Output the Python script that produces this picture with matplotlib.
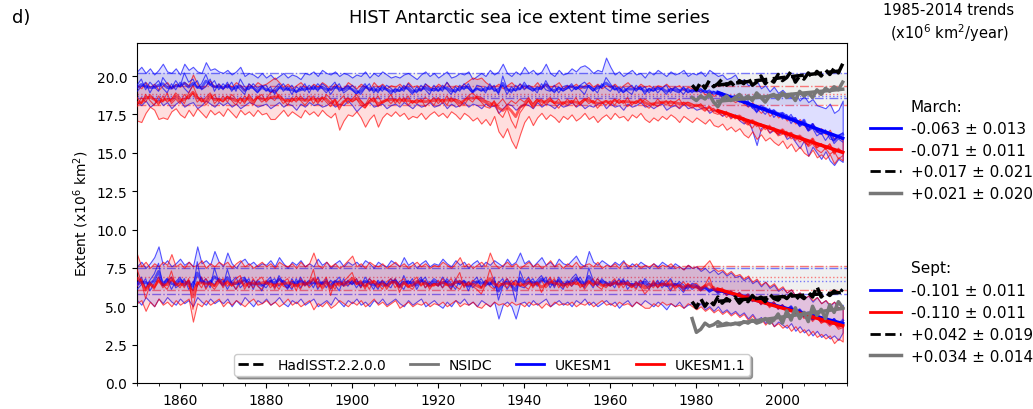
import numpy as np
import matplotlib
matplotlib.use("Agg")
import matplotlib.pyplot as plt
from matplotlib.lines import Line2D

years = list(range(1850, 2015))
obs_years = list(range(1979, 2015))
trend_start, trend_end = 1985, 2014

# ---------------- March, UKESM1 (blue) ----------------
mar_ukesm1_hi = [
    20.3, 20.6, 20.2, 20.5, 20.1, 20.4, 20.8, 20.3, 20.2, 20.5,
    20.1, 20.8, 20.4, 20.6, 20.3, 20.2, 20.9, 20.4, 20.5, 20.3,
    20.2, 20.4, 20.1, 20.3, 20.6, 20.0, 20.2, 20.1, 19.9, 20.2,
    19.9, 20.1, 19.8, 20.0, 20.2, 19.9, 20.1, 20.0, 19.8, 20.2,
    20.1, 20.3, 20.0, 20.4, 20.2, 20.1, 20.3, 20.0, 20.2, 20.1,
    19.9, 20.1, 20.0, 20.3, 19.9, 20.2, 20.0, 20.3, 20.1, 19.9,
    20.0, 19.9, 20.1, 20.2, 20.0, 19.8, 20.1, 20.3, 20.0, 20.2,
    19.9, 20.1, 20.3, 19.9, 20.0, 20.2, 20.1, 20.3, 19.8, 20.0,
    20.2, 20.0, 20.4, 20.1, 20.3, 20.8, 20.2, 20.0, 20.3, 20.1,
    20.6, 20.2, 20.4, 20.1, 20.3, 20.8, 20.2, 20.0, 20.4, 20.1,
    20.2, 20.5, 20.3, 20.6, 20.7, 20.5, 20.2, 20.4, 20.3, 21.2,
    20.6, 20.1, 20.3, 20.0, 20.2, 20.4, 20.1, 20.2, 19.9, 20.3,
    20.1, 20.4, 20.2, 20.0, 20.3, 20.1, 20.2, 20.4, 20.0, 20.2,
    20.1, 20.3, 20.0, 20.4, 20.2, 20.0, 20.1, 19.8, 19.9, 20.1,
    19.6, 19.8, 19.4, 19.5, 19.7, 19.2, 19.4, 19.0, 19.3, 18.9,
    19.1, 18.8, 18.6, 18.9, 18.4, 18.7, 18.3, 18.5, 18.1, 18.0,
    17.9, 18.2, 17.6, 17.8, 18.4]
mar_ukesm1_lo = [
    18.3, 18.1, 18.4, 18.0, 18.2, 18.5, 18.1, 18.3, 17.9, 18.2,
    18.4, 18.0, 18.2, 18.3, 17.9, 18.1, 18.4, 18.2, 18.0, 18.3,
    18.1, 18.3, 18.0, 18.2, 17.9, 18.1, 18.3, 18.2, 18.0, 18.1,
    18.2, 17.9, 18.1, 18.3, 18.0, 18.2, 18.1, 17.8, 18.2, 18.0,
    18.3, 18.1, 18.2, 18.0, 18.1, 18.3, 18.0, 18.2, 18.1, 18.4,
    18.1, 17.7, 18.0, 18.2, 18.3, 18.0, 18.1, 18.2, 17.9, 18.1,
    18.2, 18.0, 18.3, 18.1, 17.9, 18.2, 18.0, 18.1, 18.3, 18.0,
    18.1, 18.3, 17.9, 18.2, 18.0, 18.1, 18.3, 18.0, 18.2, 18.1,
    17.9, 18.2, 18.0, 18.1, 17.6, 17.9, 18.2, 18.1, 17.8, 18.0,
    18.2, 18.1, 17.9, 18.3, 18.0, 18.2, 18.1, 17.9, 18.2, 18.0,
    18.1, 18.3, 18.0, 18.2, 17.9, 18.1, 18.0, 18.2, 18.3, 17.9,
    18.2, 18.0, 18.1, 17.8, 18.2, 18.0, 18.1, 18.3, 18.0, 18.1,
    17.9, 18.1, 18.2, 17.8, 18.0, 18.1, 17.9, 18.2, 17.9, 18.0,
    17.8, 17.9, 18.0, 17.6, 17.8, 17.7, 17.4, 17.6, 17.3, 17.5,
    17.1, 16.9, 17.2, 16.4, 15.5, 16.6, 16.8, 16.3, 16.5, 16.2,
    16.4, 15.9, 16.1, 15.7, 15.3, 15.8, 14.8, 15.4, 15.0, 14.6,
    15.1, 14.5, 14.2, 14.6, 14.4]
mar_ukesm1_m1 = [
    19.4, 19.8, 19.1, 19.6, 19.3, 19.0, 19.9, 19.5, 19.2, 19.7,
    19.3, 20.2, 19.6, 19.8, 19.2, 19.5, 20.1, 19.4, 19.7, 19.1,
    19.5, 19.2, 19.6, 19.0, 19.8, 19.3, 19.1, 19.5, 19.2, 19.4,
    19.0, 19.3, 18.8, 19.2, 19.5, 19.1, 19.4, 18.9, 19.3, 19.0,
    19.4, 19.1, 19.5, 19.2, 18.9, 19.3, 19.6, 19.0, 19.2, 19.4,
    19.1, 18.8, 19.2, 19.5, 19.0, 19.3, 18.9, 19.4, 19.1, 18.8,
    19.2, 19.0, 19.4, 19.1, 18.8, 19.3, 19.0, 19.5, 19.2, 19.0,
    19.3, 19.0, 19.6, 19.2, 18.9, 19.4, 19.1, 19.5, 19.0, 19.2,
    19.0, 19.3, 19.1, 19.4, 18.8, 20.0, 19.2, 18.9, 19.4, 19.1,
    19.6, 19.2, 19.0, 19.3, 19.1, 19.7, 19.2, 18.9, 19.3, 19.0,
    19.2, 19.5, 19.1, 19.4, 19.6, 19.3, 19.0, 19.4, 19.2, 19.9,
    19.5, 19.1, 19.3, 18.9, 19.2, 19.4, 19.0, 19.3, 18.8, 19.2,
    19.0, 19.3, 19.1, 18.8, 19.2, 19.0, 18.9, 19.3, 18.9, 19.1,
    19.0, 19.2, 18.9, 19.1, 18.8, 18.9, 18.6, 18.8, 18.5, 18.7,
    18.3, 18.5, 18.0, 18.2, 17.6, 18.1, 17.9, 17.6, 17.8, 17.4,
    17.6, 17.2, 17.5, 17.0, 16.8, 17.1, 16.5, 16.9, 16.4, 16.2,
    16.5, 15.9, 15.8, 16.1, 16.3]
mar_ukesm1_m2 = [
    19.0, 19.3, 19.6, 18.9, 19.4, 19.7, 19.2, 18.9, 19.5, 19.1,
    19.6, 19.2, 18.9, 19.4, 19.7, 19.1, 19.3, 19.8, 19.0, 19.5,
    19.1, 19.6, 19.0, 19.4, 19.1, 18.8, 19.5, 19.2, 18.9, 19.3,
    19.4, 18.9, 19.2, 19.5, 19.0, 19.3, 18.8, 19.3, 19.1, 19.5,
    18.9, 19.4, 19.0, 19.5, 19.3, 18.8, 19.2, 19.5, 18.9, 19.1,
    19.4, 19.1, 18.8, 19.2, 19.5, 18.9, 19.3, 19.0, 19.4, 19.2,
    18.9, 19.3, 19.0, 19.5, 19.2, 18.9, 19.4, 19.1, 18.8, 19.4,
    19.0, 19.4, 19.1, 18.8, 19.3, 19.0, 19.5, 19.2, 18.9, 19.4,
    19.3, 18.9, 19.5, 19.0, 19.2, 19.4, 18.8, 19.3, 19.0, 19.5,
    19.1, 19.4, 19.2, 18.9, 19.5, 19.1, 19.0, 19.4, 18.9, 19.3,
    19.4, 19.0, 19.3, 19.1, 18.8, 19.4, 19.2, 18.9, 19.5, 19.2,
    19.0, 19.4, 18.9, 19.3, 19.0, 18.8, 19.4, 19.1, 19.3, 18.9,
    19.3, 18.9, 19.2, 19.4, 18.9, 19.3, 19.1, 18.8, 19.2, 18.9,
    19.2, 18.9, 19.1, 18.7, 19.0, 18.8, 18.9, 18.5, 18.7, 18.4,
    18.6, 18.2, 18.4, 17.9, 18.1, 17.8, 17.5, 17.9, 17.3, 17.6,
    17.2, 17.5, 16.9, 17.3, 16.7, 16.9, 16.4, 16.6, 16.1, 16.3,
    15.8, 16.2, 15.6, 15.9, 15.7]

# ---------------- March, UKESM1.1 (red) ----------------
mar_ukesm11_hi = [
    19.4, 19.2, 19.6, 19.3, 19.5, 19.1, 19.4, 19.6, 19.2, 19.5,
    19.3, 19.6, 19.4, 20.1, 19.5, 19.2, 19.4, 19.7, 19.3, 19.5,
    19.2, 19.5, 19.3, 19.6, 19.4, 19.1, 19.5, 19.3, 19.6, 19.4,
    19.5, 19.7, 19.9, 19.6, 19.3, 19.5, 19.2, 19.4, 19.6, 19.3,
    19.2, 19.5, 19.3, 19.6, 19.4, 19.1, 19.5, 19.3, 19.2, 19.6,
    19.4, 19.2, 19.5, 19.3, 19.1, 19.6, 19.3, 19.5, 19.2, 19.4,
    19.3, 19.5, 19.2, 19.6, 19.3, 19.4, 19.1, 19.5, 19.3, 19.2,
    19.5, 19.3, 19.6, 19.2, 19.4, 19.3, 19.5, 19.7, 19.9, 19.8,
    19.9, 19.6, 19.4, 19.3, 19.5, 19.2, 19.4, 19.6, 19.3, 19.5,
    19.2, 19.4, 19.3, 19.6, 19.2, 19.5, 19.3, 19.4, 19.6, 19.2,
    19.4, 19.3, 19.5, 19.2, 19.4, 19.6, 19.3, 19.5, 19.2, 19.4,
    19.3, 19.5, 19.2, 19.4, 19.6, 19.3, 19.2, 19.5, 19.3, 19.4,
    19.2, 19.4, 19.3, 19.5, 19.2, 19.3, 19.4, 19.1, 19.3, 19.2,
    19.0, 19.1, 18.8, 19.0, 18.7, 18.9, 18.6, 18.8, 18.5, 18.3,
    18.5, 18.2, 18.0, 18.3, 17.9, 17.6, 17.9, 17.4, 17.7, 17.3,
    17.5, 17.1, 17.3, 16.9, 17.2, 16.8, 16.5, 16.9, 16.4, 16.6,
    16.2, 16.5, 15.9, 16.1, 15.8]
mar_ukesm11_lo = [
    17.1, 17.0, 17.6, 18.0, 17.8, 17.2, 17.3, 17.2, 17.7, 17.9,
    17.5, 17.3, 17.8, 17.4, 17.9, 17.6, 17.3, 17.8, 17.5, 17.7,
    17.4, 17.9, 17.6, 17.3, 17.8, 17.5, 17.7, 17.4, 17.8, 17.5,
    17.6, 17.2, 17.2, 17.5, 17.8, 17.4, 17.7, 17.5, 17.3, 17.8,
    17.5, 17.7, 17.4, 17.8, 17.5, 17.3, 17.6, 16.5, 17.1, 17.5,
    17.4, 17.7, 17.3, 16.7, 17.2, 17.5, 16.7, 17.3, 17.6, 17.4,
    17.7, 17.4, 17.6, 17.2, 17.4, 17.3, 17.6, 17.2, 17.5, 17.7,
    17.4, 17.6, 17.3, 17.7, 17.5, 17.2, 17.6, 17.4, 17.1, 17.3,
    16.9, 17.2, 16.8, 17.4, 16.4, 16.0, 16.6, 15.8, 15.3, 16.2,
    17.0, 17.4, 16.8, 17.3, 17.6, 17.2, 17.5, 17.3, 17.0, 17.4,
    17.2, 17.5, 17.1, 17.3, 17.6, 17.2, 17.4, 17.0, 17.3, 17.5,
    17.2, 17.6, 17.3, 17.4, 17.1, 17.5, 17.3, 17.6, 17.2, 17.0,
    17.3, 17.1, 17.4, 17.2, 17.5, 17.3, 17.0, 17.4, 17.2, 17.0,
    17.3, 17.1, 16.9, 17.2, 16.8, 16.7, 16.9, 16.5, 16.7, 16.4,
    16.6, 16.2, 16.0, 16.4, 15.9, 16.2, 15.8, 16.0, 15.7, 15.5,
    15.8, 15.3, 15.6, 15.1, 15.4, 15.0, 14.8, 15.2, 14.7, 14.9,
    14.6, 14.9, 14.3, 14.7, 14.5]
mar_ukesm11_m1 = [
    18.0, 18.6, 18.3, 18.8, 18.5, 18.1, 18.7, 18.3, 18.5, 18.9,
    18.6, 18.2, 18.9, 19.4, 18.7, 18.3, 18.6, 18.9, 18.2, 18.5,
    18.3, 18.7, 18.4, 18.1, 18.6, 18.2, 18.8, 18.4, 18.6, 18.3,
    18.5, 18.9, 19.1, 18.6, 18.2, 18.5, 18.3, 18.7, 18.4, 18.1,
    18.4, 18.7, 18.2, 18.6, 18.3, 18.0, 18.5, 17.8, 18.3, 18.6,
    18.3, 18.5, 18.1, 17.9, 18.4, 18.6, 18.0, 18.3, 18.5, 18.2,
    18.5, 18.2, 18.6, 18.1, 18.4, 18.2, 18.5, 18.0, 18.3, 18.6,
    18.2, 18.5, 18.1, 18.6, 18.3, 18.0, 18.4, 18.7, 18.9, 18.6,
    18.3, 18.0, 17.9, 18.4, 17.6, 17.3, 17.9, 17.1, 16.6, 17.6,
    18.0, 18.4, 17.9, 18.3, 18.5, 18.1, 18.4, 18.2, 17.9, 18.3,
    18.1, 18.4, 18.0, 18.3, 18.5, 18.2, 18.4, 17.9, 18.2, 18.4,
    18.1, 18.5, 18.2, 18.4, 18.0, 18.3, 18.2, 18.5, 18.1, 17.9,
    18.2, 18.0, 18.3, 18.1, 18.4, 18.2, 17.9, 18.3, 18.1, 17.9,
    18.1, 17.9, 17.7, 18.0, 17.6, 17.5, 17.7, 17.3, 17.5, 17.2,
    17.4, 17.0, 16.8, 17.1, 16.7, 16.9, 16.5, 16.8, 16.4, 16.2,
    16.5, 16.0, 16.3, 15.8, 16.1, 15.7, 15.5, 15.9, 15.3, 15.6,
    15.2, 15.6, 14.9, 15.3, 15.0]
mar_ukesm11_m2 = [
    18.6, 18.2, 18.8, 18.4, 18.1, 18.7, 18.3, 18.9, 18.2, 18.5,
    18.2, 18.8, 18.5, 18.9, 18.3, 18.6, 18.1, 18.5, 18.8, 18.3,
    18.7, 18.3, 18.8, 18.5, 18.2, 18.7, 18.4, 18.1, 18.6, 18.8,
    18.3, 18.6, 18.4, 18.8, 18.5, 18.1, 18.6, 18.3, 18.7, 18.4,
    18.7, 18.2, 18.6, 18.3, 18.8, 18.5, 18.1, 18.4, 18.7, 18.2,
    18.5, 18.8, 18.4, 18.1, 18.6, 18.3, 18.7, 18.2, 18.4, 18.8,
    18.2, 18.6, 18.3, 18.7, 18.2, 18.5, 18.3, 18.6, 18.4, 18.1,
    18.6, 18.2, 18.7, 18.3, 18.5, 18.4, 18.1, 18.5, 18.3, 18.7,
    18.6, 18.4, 18.3, 18.0, 18.2, 18.5, 18.1, 18.4, 18.2, 18.5,
    18.3, 18.6, 18.2, 18.5, 18.1, 18.4, 18.6, 18.2, 18.5, 18.1,
    18.5, 18.2, 18.6, 18.1, 18.4, 18.6, 18.2, 18.5, 18.3, 18.1,
    18.4, 18.1, 18.5, 18.2, 18.6, 18.1, 18.4, 18.2, 18.5, 18.3,
    18.1, 18.5, 18.2, 18.4, 18.0, 18.3, 18.5, 18.1, 18.3, 18.2,
    18.0, 18.2, 17.9, 17.7, 17.9, 17.6, 17.4, 17.7, 17.2, 17.4,
    17.1, 17.3, 16.9, 16.6, 17.0, 16.4, 16.7, 16.3, 16.5, 16.1,
    16.2, 16.4, 15.9, 16.1, 15.7, 15.9, 15.4, 15.6, 15.2, 15.0,
    15.3, 14.9, 15.1, 14.6, 14.8]

# ---------------- September, UKESM1 (blue) ----------------
sep_ukesm1_hi = [
    7.6, 7.9, 7.5, 7.8, 8.2, 8.9, 7.7, 8.0, 7.6, 7.8,
    8.1, 7.7, 7.9, 7.6, 8.9, 7.8, 8.0, 7.7, 8.6, 7.9,
    7.6, 8.5, 7.8, 7.5, 7.9, 8.1, 7.7, 7.9, 7.6, 7.8,
    7.7, 8.0, 7.6, 8.2, 7.8, 7.5, 7.9, 7.7, 8.0, 7.6,
    7.8, 7.6, 8.1, 7.7, 7.9, 7.5, 7.8, 8.0, 7.6, 7.9,
    7.7, 7.9, 7.6, 8.0, 7.8, 7.5, 7.9, 7.7, 7.6, 8.0,
    7.8, 7.6, 8.2, 7.7, 7.9, 7.5, 7.8, 8.0, 7.6, 7.8,
    7.7, 8.1, 7.8, 7.6, 8.0, 7.7, 7.9, 7.5, 7.8, 8.0,
    7.6, 7.9, 7.7, 8.0, 7.8, 7.6, 8.1, 7.7, 7.9, 8.5,
    7.8, 8.0, 7.6, 7.9, 8.2, 7.7, 7.9, 7.6, 8.1, 7.8,
    7.7, 8.0, 8.3, 7.8, 7.6, 8.6, 7.9, 7.7, 8.0, 7.8,
    7.6, 7.9, 7.7, 8.0, 7.5, 7.8, 7.6, 7.9, 7.7, 7.5,
    7.8, 7.6, 7.9, 7.7, 7.5, 7.8, 7.6, 7.4, 7.7, 7.5,
    7.6, 7.3, 7.5, 7.2, 7.4, 7.1, 7.3, 7.0, 7.2, 6.9,
    7.0, 6.7, 6.9, 6.5, 6.7, 6.3, 6.6, 6.2, 6.4, 6.0,
    6.2, 5.9, 6.1, 5.7, 5.9, 5.5, 5.7, 5.3, 5.6, 5.2,
    5.4, 5.0, 5.3, 4.9, 5.1]
sep_ukesm1_lo = [
    5.4, 5.1, 5.6, 5.3, 5.0, 5.5, 5.2, 5.6, 5.3, 5.1,
    5.5, 5.2, 5.4, 5.0, 5.6, 5.3, 5.1, 5.5, 5.2, 5.4,
    5.2, 5.5, 5.0, 5.4, 5.1, 5.6, 5.3, 5.0, 5.4, 5.2,
    5.5, 5.1, 5.3, 5.6, 5.2, 5.0, 5.4, 5.2, 5.5, 5.1,
    5.3, 5.5, 5.0, 5.2, 5.4, 5.1, 5.6, 5.3, 5.0, 5.4,
    5.2, 5.5, 5.1, 5.3, 5.0, 5.4, 5.2, 5.5, 5.1, 5.3,
    5.5, 5.2, 5.0, 5.4, 5.1, 5.3, 5.5, 5.0, 5.2, 5.4,
    5.1, 4.9, 5.3, 5.0, 5.4, 5.2, 5.5, 5.1, 5.3, 5.0,
    5.4, 5.2, 5.0, 5.3, 4.2, 5.1, 5.3, 5.0, 4.2, 5.2,
    5.3, 5.0, 5.4, 5.1, 5.3, 5.5, 5.0, 5.2, 5.4, 5.1,
    5.3, 5.0, 5.4, 5.2, 5.5, 5.1, 5.3, 5.0, 5.2, 5.4,
    5.1, 5.3, 4.9, 5.2, 5.4, 5.0, 5.3, 5.1, 5.4, 5.2,
    5.0, 5.3, 5.1, 4.8, 5.2, 5.0, 5.3, 4.9, 5.1, 5.2,
    4.9, 5.2, 4.8, 5.0, 4.7, 5.0, 4.6, 4.8, 4.5, 4.7,
    4.4, 4.6, 4.2, 4.5, 4.1, 4.3, 3.9, 4.2, 3.7, 4.0,
    3.8, 3.6, 3.9, 3.4, 3.7, 3.3, 3.5, 3.1, 3.4, 3.0,
    3.2, 2.9, 3.1, 2.8, 3.3]
sep_ukesm1_m1 = [
    6.5, 6.9, 6.2, 6.7, 7.1, 7.8, 6.4, 6.8, 6.1, 6.6,
    6.9, 6.3, 6.7, 6.0, 7.9, 6.5, 6.8, 6.2, 7.5, 6.6,
    6.3, 7.4, 6.5, 6.1, 6.8, 6.9, 6.2, 6.7, 6.4, 6.0,
    6.6, 6.9, 6.2, 7.0, 6.5, 6.1, 6.8, 6.3, 6.9, 6.4,
    6.7, 6.2, 6.9, 6.4, 6.8, 6.1, 6.6, 6.9, 6.3, 6.7,
    6.4, 6.8, 6.2, 6.9, 6.5, 6.1, 6.7, 6.3, 6.4, 6.8,
    6.5, 6.2, 7.0, 6.4, 6.8, 6.1, 6.6, 6.9, 6.3, 6.5,
    6.3, 6.9, 6.5, 6.1, 6.8, 6.4, 6.7, 6.0, 6.6, 6.9,
    6.2, 6.7, 6.4, 6.9, 5.4, 6.3, 6.8, 6.4, 5.3, 7.3,
    6.6, 6.9, 6.3, 6.7, 7.0, 6.4, 6.8, 6.2, 6.9, 6.5,
    6.4, 6.8, 7.1, 6.5, 6.2, 7.5, 6.7, 6.3, 6.8, 6.5,
    6.3, 6.7, 6.4, 6.8, 6.1, 6.5, 6.2, 6.7, 6.4, 6.1,
    6.6, 6.2, 6.7, 6.4, 6.0, 6.5, 6.2, 5.9, 6.4, 6.1,
    6.3, 6.0, 6.2, 5.9, 6.1, 5.8, 6.0, 5.7, 5.9, 5.6,
    5.8, 5.5, 5.7, 5.3, 5.5, 5.1, 5.4, 5.0, 5.2, 4.8,
    5.0, 4.7, 4.9, 4.5, 4.8, 4.3, 4.6, 4.2, 4.5, 4.1,
    4.3, 3.9, 4.2, 3.8, 4.0]
sep_ukesm1_m2 = [
    6.1, 6.4, 6.8, 6.0, 6.5, 6.9, 6.3, 6.6, 6.9, 6.2,
    6.4, 6.8, 6.1, 6.6, 6.3, 6.9, 6.2, 6.7, 6.4, 6.8,
    6.7, 6.1, 6.6, 6.9, 6.2, 6.5, 6.8, 6.1, 6.7, 6.4,
    6.2, 6.6, 6.8, 6.3, 6.7, 6.4, 6.1, 6.8, 6.2, 6.6,
    6.3, 6.8, 6.1, 6.6, 6.2, 6.7, 6.4, 6.0, 6.8, 6.3,
    6.7, 6.2, 6.6, 6.3, 6.8, 6.5, 6.1, 6.7, 6.4, 6.2,
    6.8, 6.4, 6.1, 6.7, 6.3, 6.6, 6.9, 6.2, 6.5, 6.8,
    6.6, 6.2, 6.8, 6.5, 6.1, 6.7, 6.3, 6.6, 6.2, 6.5,
    6.8, 6.3, 6.6, 6.2, 6.5, 6.8, 6.1, 6.5, 6.7, 6.3,
    6.2, 6.5, 6.8, 6.3, 6.6, 6.9, 6.2, 6.7, 6.4, 6.1,
    6.7, 6.3, 6.6, 6.9, 6.4, 6.6, 6.2, 6.8, 6.5, 6.3,
    6.6, 6.2, 6.8, 6.4, 6.7, 6.3, 6.6, 6.2, 6.8, 6.5,
    6.3, 6.7, 6.2, 6.5, 6.8, 6.3, 6.6, 6.4, 6.1, 6.5,
    6.4, 6.1, 6.3, 6.0, 6.2, 5.9, 6.1, 5.8, 6.0, 5.7,
    5.9, 5.6, 5.8, 5.4, 5.6, 5.2, 5.5, 5.1, 5.3, 4.9,
    5.1, 4.8, 5.0, 4.6, 4.7, 4.4, 4.5, 4.1, 4.4, 4.0,
    4.2, 3.8, 4.0, 3.7, 3.9]

# ---------------- September, UKESM1.1 (red) ----------------
sep_ukesm11_hi = [
    8.4, 7.6, 7.9, 7.5, 7.8, 7.6, 7.9, 7.7, 8.4, 7.6,
    7.8, 7.5, 7.9, 7.6, 7.7, 8.0, 7.5, 7.8, 7.6, 7.9,
    7.7, 7.9, 7.5, 7.8, 8.0, 7.6, 7.8, 7.5, 7.7, 7.9,
    7.6, 7.8, 7.5, 7.9, 7.7, 7.6, 7.8, 7.5, 7.9, 7.6,
    7.8, 8.5, 7.7, 7.5, 7.9, 7.6, 7.8, 7.5, 7.7, 8.0,
    8.3, 7.6, 7.8, 7.5, 7.9, 7.7, 7.6, 7.8, 7.5, 7.7,
    7.9, 7.6, 7.8, 7.5, 7.7, 7.9, 7.6, 7.8, 7.5, 7.7,
    7.6, 7.9, 7.7, 7.5, 7.8, 8.2, 7.6, 7.8, 7.5, 7.7,
    7.9, 7.6, 8.5, 7.8, 7.5, 7.7, 7.9, 7.6, 7.8, 7.5,
    7.7, 7.9, 7.6, 7.8, 7.5, 7.7, 8.0, 7.6, 7.8, 7.5,
    7.8, 7.6, 7.9, 7.5, 7.7, 7.8, 7.6, 7.9, 7.5, 7.7,
    7.6, 7.8, 7.5, 7.9, 7.7, 7.6, 7.8, 7.5, 7.7, 7.6,
    7.8, 7.5, 7.7, 7.6, 7.8, 7.5, 7.6, 7.4, 7.7, 7.5,
    7.6, 7.4, 7.7, 8.0, 7.5, 7.3, 7.4, 7.1, 7.3, 7.0,
    7.1, 6.8, 7.0, 6.6, 6.8, 6.4, 6.6, 6.3, 6.5, 6.1,
    6.3, 5.9, 6.1, 5.7, 5.9, 5.5, 5.7, 5.4, 5.6, 5.2,
    5.4, 5.1, 5.3, 4.9, 5.0]
sep_ukesm11_lo = [
    5.2, 5.4, 4.7, 5.3, 5.0, 5.5, 5.1, 5.3, 5.0, 5.4,
    5.1, 5.3, 5.5, 4.0, 5.2, 5.0, 5.4, 5.1, 5.3, 5.5,
    5.0, 5.3, 5.1, 5.4, 5.2, 5.0, 5.3, 5.5, 5.1, 5.2,
    5.4, 5.1, 5.3, 5.0, 5.2, 5.5, 5.1, 5.3, 5.0, 5.2,
    5.4, 4.8, 5.2, 5.0, 5.3, 4.9, 5.1, 5.4, 5.2, 5.0,
    5.3, 5.1, 5.4, 5.0, 5.2, 5.5, 5.1, 5.3, 5.0, 5.2,
    5.4, 4.9, 5.1, 5.3, 5.0, 5.2, 5.1, 5.3, 5.0, 5.2,
    5.1, 5.3, 5.0, 5.2, 5.4, 5.0, 5.2, 5.1, 5.3, 5.0,
    4.9, 5.2, 5.0, 5.3, 5.1, 5.2, 5.0, 5.3, 5.1, 5.2,
    5.0, 5.3, 5.1, 5.2, 4.9, 5.2, 5.0, 5.3, 5.1, 5.2,
    5.1, 5.3, 5.0, 5.2, 5.1, 5.3, 5.0, 5.2, 5.4, 5.1,
    5.2, 5.0, 5.3, 5.1, 5.2, 5.0, 5.3, 5.1, 4.9, 4.9,
    5.2, 5.0, 5.3, 5.1, 5.2, 5.0, 5.1, 4.9, 5.2, 5.0,
    4.8, 5.0, 4.7, 4.9, 4.6, 4.8, 4.5, 4.7, 4.4, 4.6,
    4.3, 4.5, 4.1, 4.4, 4.0, 4.2, 3.8, 4.1, 3.7, 3.9,
    3.6, 3.8, 3.4, 3.7, 3.3, 3.5, 3.1, 3.4, 3.0, 3.2,
    2.9, 3.1, 2.6, 2.9, 2.7]
sep_ukesm11_m1 = [
    7.4, 6.6, 5.5, 6.4, 6.1, 6.7, 6.2, 6.5, 7.3, 6.3,
    6.6, 6.2, 6.8, 4.8, 6.4, 6.9, 6.1, 6.6, 6.3, 6.8,
    6.2, 6.7, 6.3, 6.8, 7.0, 6.1, 6.6, 6.2, 6.7, 6.9,
    6.4, 6.7, 6.1, 6.8, 6.3, 6.2, 6.7, 6.0, 6.8, 6.3,
    6.6, 7.4, 6.2, 6.5, 6.9, 5.7, 6.7, 6.3, 6.6, 6.9,
    7.2, 6.4, 6.7, 6.1, 6.8, 6.5, 6.2, 6.7, 6.1, 6.5,
    6.8, 5.9, 6.5, 6.2, 6.6, 6.9, 6.3, 6.7, 6.1, 6.5,
    6.3, 6.8, 6.4, 6.1, 6.7, 7.2, 6.2, 6.6, 6.3, 6.1,
    5.8, 6.4, 7.4, 6.6, 6.2, 6.5, 6.8, 6.2, 6.7, 6.3,
    6.5, 6.8, 6.2, 6.6, 5.9, 6.5, 6.9, 6.3, 6.7, 6.2,
    6.6, 6.3, 6.8, 6.2, 6.5, 6.7, 6.3, 6.8, 6.4, 6.2,
    6.5, 6.8, 6.2, 6.7, 6.4, 6.2, 6.6, 6.3, 5.8, 6.1,
    6.7, 6.2, 6.5, 6.3, 6.7, 6.1, 6.4, 6.0, 6.5, 6.2,
    6.2, 6.0, 6.4, 6.9, 6.1, 5.9, 6.0, 5.7, 5.9, 5.6,
    5.8, 5.5, 5.7, 5.3, 5.5, 5.1, 5.3, 4.9, 5.2, 4.8,
    5.0, 4.6, 4.8, 4.4, 4.6, 4.2, 4.4, 4.0, 4.3, 3.9,
    4.1, 3.8, 3.9, 3.6, 3.7]
sep_ukesm11_m2 = [
    6.3, 6.8, 6.1, 6.6, 6.2, 6.9, 6.4, 6.1, 6.7, 6.5,
    6.2, 6.7, 6.3, 6.0, 6.6, 6.2, 6.8, 6.4, 6.1, 6.5,
    6.8, 6.3, 6.6, 6.1, 6.5, 6.7, 6.2, 6.8, 6.3, 6.1,
    6.7, 6.2, 6.5, 6.1, 6.6, 6.8, 6.2, 6.5, 6.1, 6.7,
    6.2, 6.5, 6.8, 6.1, 6.4, 6.6, 6.1, 6.7, 6.3, 6.4,
    6.5, 6.8, 6.2, 6.6, 6.1, 6.7, 6.5, 6.1, 6.6, 6.8,
    6.2, 6.6, 6.8, 6.3, 6.1, 6.5, 6.7, 6.2, 6.6, 6.3,
    6.7, 6.2, 6.5, 6.8, 6.3, 6.1, 6.6, 6.3, 6.7, 6.5,
    6.2, 6.7, 6.3, 6.1, 6.6, 6.4, 6.2, 6.7, 6.3, 6.6,
    6.3, 6.1, 6.6, 6.4, 6.7, 6.2, 6.5, 6.8, 6.2, 6.6,
    6.2, 6.7, 6.4, 6.6, 6.1, 6.5, 6.8, 6.3, 6.1, 6.6,
    6.3, 6.5, 6.7, 6.2, 6.6, 6.4, 6.1, 6.7, 6.3, 6.5,
    6.2, 6.6, 6.3, 6.7, 6.1, 6.5, 6.3, 6.6, 6.2, 6.4,
    6.5, 6.2, 6.4, 6.1, 6.3, 6.0, 6.2, 5.8, 6.0, 5.7,
    5.9, 5.6, 5.8, 5.4, 5.6, 5.2, 5.4, 5.0, 5.3, 4.9,
    5.1, 4.7, 4.9, 4.5, 4.7, 4.3, 4.5, 4.1, 4.3, 3.9,
    4.0, 3.7, 3.9, 3.5, 3.6]

# ---------------- Observations 1979-2014 ----------------
mar_hadisst = [
    19.4, 19.1, 19.6, 19.2, 19.7, 19.3, 19.5, 19.8, 19.4, 19.6,
    19.3, 19.7, 19.5, 19.9, 19.4, 19.6, 20.0, 19.5, 19.8, 19.6,
    20.1, 19.7, 19.9, 20.3, 19.6, 20.0, 19.8, 20.2, 19.9, 20.3,
    20.0, 20.4, 20.1, 20.5, 20.2, 20.8]
mar_nsidc = [
    18.6, 18.4, 18.7, 18.5, 18.8, 18.3, 18.0, 18.5, 18.7, 18.4,
    18.6, 18.8, 18.5, 18.7, 18.4, 18.9, 18.6, 18.3, 18.7, 18.8,
    18.5, 18.9, 18.6, 18.8, 18.4, 19.0, 18.7, 18.9, 18.6, 19.1,
    18.8, 19.2, 19.0, 19.3, 19.1, 19.6]
sep_hadisst = [
    5.3, 4.9, 5.5, 5.0, 5.4, 5.1, 5.6, 5.2, 5.5, 5.3,
    5.6, 5.2, 5.5, 5.3, 5.7, 5.4, 5.6, 5.3, 5.8, 5.5,
    5.4, 5.7, 5.5, 5.8, 5.4, 5.7, 5.5, 5.9, 5.6, 6.3,
    5.6, 5.9, 5.7, 6.0, 5.8, 6.1]
sep_nsidc = [
    4.2, 3.3, 3.5, 3.9, 3.7, 3.8, 4.0, 3.8, 3.9, 3.8,
    3.9, 3.8, 4.0, 3.9, 4.1, 3.9, 4.0, 4.2, 3.9, 4.1,
    4.5, 3.9, 4.7, 4.1, 4.9, 4.2, 4.6, 4.0, 5.0, 4.4,
    4.8, 4.2, 5.1, 4.6, 5.3, 4.9]

# ---------------- Reference levels ----------------
mar_ref_ukesm1 = [20.17, 18.55]
mar_ref_ukesm11 = [19.37, 18.11]
mar_dot_ukesm1 = 18.70
mar_dot_ukesm11 = 18.83
sep_ref_ukesm1 = [7.49, 5.80]
sep_ref_ukesm11 = [7.64, 6.06]
sep_dot_ukesm1 = 6.67
sep_dot_ukesm11 = 6.88
mar_band = [18.11, 20.17]
sep_band = [6.06, 7.64]

# legend texts
mar_trend_labels = ["-0.063 \u00b1 0.013", "-0.071 \u00b1 0.011",
                    "+0.017 \u00b1 0.021", "+0.021 \u00b1 0.020"]
sep_trend_labels = ["-0.101 \u00b1 0.011", "-0.110 \u00b1 0.011",
                    "+0.042 \u00b1 0.019", "+0.034 \u00b1 0.014"]
dataset_names = ["HadISST.2.2.0.0", "NSIDC", "UKESM1", "UKESM1.1"]

# ---------------- Plot ----------------
BLUE = "#0000ff"
RED = "#ff0000"
GREY = "#777777"

fig = plt.figure(figsize=(10.33, 4.10), dpi=100)
ax = fig.add_axes([137 / 1033, 1 - 384 / 410, 710 / 1033, 340 / 410])

x = np.array(years)
xo = np.array(obs_years)

# grey bands & reference lines
for band in (mar_band, sep_band):
    ax.axhspan(band[0], band[1], color="#e6e6e6", alpha=0.6, lw=0, zorder=0)
for vals, col in ((mar_ref_ukesm1, BLUE), (mar_ref_ukesm11, RED),
                  (sep_ref_ukesm1, BLUE), (sep_ref_ukesm11, RED)):
    for v in vals:
        ax.axhline(v, color=col, ls="-.", lw=1.0, alpha=0.5, zorder=1)
for v, col in ((mar_dot_ukesm1, BLUE), (mar_dot_ukesm11, RED),
               (sep_dot_ukesm1, BLUE), (sep_dot_ukesm11, RED)):
    ax.axhline(v, color=col, ls=":", lw=1.0, alpha=0.5, zorder=1)


def draw_model(hi, lo, m1, m2, col):
    hi, lo, m1, m2 = map(np.array, (hi, lo, m1, m2))
    ax.fill_between(x, lo, hi, facecolor=matplotlib.colors.to_rgba(col, 0.13),
                    edgecolor=matplotlib.colors.to_rgba(col, 0.65), lw=0.8, zorder=2)
    for m in (m1, m2):
        ax.plot(x, m, color=col, lw=0.8, alpha=0.65, zorder=3)
    mean = np.mean(np.vstack([hi, lo, m1, m2]), axis=0)
    ax.plot(x, mean, color=col, lw=2.0, alpha=0.6, zorder=4)
    sel = (x >= trend_start) & (x <= trend_end)
    p = np.polyfit(x[sel], mean[sel], 1)
    ax.plot(x[sel], np.polyval(p, x[sel]), color=col, lw=2.5, zorder=6)


draw_model(mar_ukesm1_hi, mar_ukesm1_lo, mar_ukesm1_m1, mar_ukesm1_m2, BLUE)
draw_model(mar_ukesm11_hi, mar_ukesm11_lo, mar_ukesm11_m1, mar_ukesm11_m2, RED)
draw_model(sep_ukesm1_hi, sep_ukesm1_lo, sep_ukesm1_m1, sep_ukesm1_m2, BLUE)
draw_model(sep_ukesm11_hi, sep_ukesm11_lo, sep_ukesm11_m1, sep_ukesm11_m2, RED)


def draw_obs(vals, col, ls):
    vals = np.array(vals)
    ax.plot(xo, vals, color=col, ls=ls, lw=2.5, zorder=7)
    sel = (xo >= trend_start) & (xo <= trend_end)
    p = np.polyfit(xo[sel], vals[sel], 1)
    ax.plot(xo[sel], np.polyval(p, xo[sel]), color=col, ls=ls, lw=2.5, zorder=7)


draw_obs(mar_hadisst, "black", "--")
draw_obs(mar_nsidc, GREY, "-")
draw_obs(sep_hadisst, "black", "--")
draw_obs(sep_nsidc, GREY, "-")

ax.set_xlim(1850, 2015)
ax.set_ylim(0, 22.15)
ax.set_yticks(np.arange(0, 20.01, 2.5))
ax.yaxis.set_major_formatter(matplotlib.ticker.FormatStrFormatter("%.1f"))
ax.set_xticks(np.arange(1860, 2015, 20))
ax.set_xticks(np.arange(1850, 2016, 5), minor=True)
ax.tick_params(axis="both", labelsize=10)
ax.set_ylabel("Extent (x10$^6$ km$^2$)", fontsize=10)

# bottom legend
handles = [Line2D([], [], color="black", ls="--", lw=2),
           Line2D([], [], color=GREY, lw=2),
           Line2D([], [], color=BLUE, lw=2),
           Line2D([], [], color=RED, lw=2)]
ax.legend(handles, dataset_names, loc="lower center", bbox_to_anchor=(0.5, 0.0),
          ncol=4, fontsize=10, shadow=True, fancybox=True, framealpha=1,
          columnspacing=1.7, handlelength=2.0, handletextpad=0.8, borderpad=0.3)

# right trend legends
tr_handles = [Line2D([], [], color=BLUE, lw=2),
              Line2D([], [], color=RED, lw=2),
              Line2D([], [], color="black", ls="--", lw=2),
              Line2D([], [], color=GREY, lw=2.5)]
fig.text(911 / 1033, 1 - 108 / 410, "March:", fontsize=11, va="center", ha="left")
fig.legend(tr_handles, mar_trend_labels, loc="upper left",
           bbox_to_anchor=(870 / 1033, 1 - 122 / 410), frameon=False, fontsize=11,
           handlelength=2.0, handletextpad=0.7, labelspacing=0.44, borderpad=0.0,
           borderaxespad=0.0)
fig.text(911 / 1033, 1 - 269 / 410, "Sept:", fontsize=11, va="center", ha="left")
fig.legend(tr_handles, sep_trend_labels, loc="upper left",
           bbox_to_anchor=(870 / 1033, 1 - 284.5 / 410), frameon=False, fontsize=11,
           handlelength=2.0, handletextpad=0.7, labelspacing=0.44, borderpad=0.0,
           borderaxespad=0.0)

fig.text(949 / 1033, 1 - 3 / 410, "1985-2014 trends\n(x10$^6$ km$^2$/year)",
         fontsize=10.5, ha="center", va="top", linespacing=1.25)
fig.text(529 / 1033, 1 - 18 / 410, "HIST Antarctic sea ice extent time series",
         fontsize=12.8, ha="center", va="center")
fig.text(12 / 1033, 1 - 18 / 410, "d)", fontsize=13, ha="left", va="center")

fig.savefig("out.png", dpi=100)
